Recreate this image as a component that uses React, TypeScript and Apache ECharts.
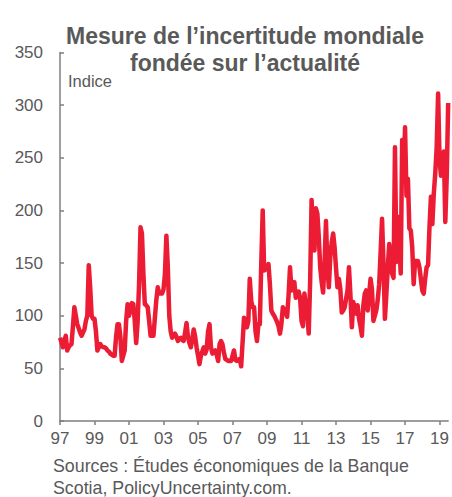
import React, { useEffect, useRef } from "react";
import * as echarts from "echarts";

// Monthly index, January 1997 to July 2019
const startYear = 1997;
const y1997 = [79, 75, 70, 76, 81, 67, 70, 72, 73, 90, 108, 100];
const y1998 = [92, 88, 84, 81, 84, 87, 95, 100, 148, 127, 100, 97];
const y1999 = [97, 85, 67, 70, 73, 71, 70, 70, 69, 67, 66, 64];
const y2000 = [63, 62, 62, 80, 92, 92, 80, 57, 62, 67, 95, 111];
const y2001 = [100, 106, 112, 111, 95, 74, 94, 130, 184, 178, 140, 111];
const y2002 = [110, 108, 95, 81, 81, 81, 98, 115, 127, 121, 121, 121];
const y2003 = [125, 140, 176, 146, 100, 85, 79, 81, 83, 80, 76, 78];
const y2004 = [79, 77, 76, 84, 93, 80, 74, 70, 78, 87, 80, 70];
const y2005 = [62, 54, 62, 66, 70, 64, 68, 85, 92, 70, 64, 66];
const y2006 = [67, 63, 57, 73, 76, 73, 65, 59, 58, 57, 57, 57];
const y2007 = [62, 67, 58, 57, 58, 59, 52, 75, 98, 92, 89, 95];
const y2008 = [135, 114, 108, 108, 85, 76, 92, 92, 150, 200, 143, 144];
const y2009 = [146, 149, 130, 105, 102, 100, 97, 94, 90, 83, 92, 108];
const y2010 = [106, 103, 99, 120, 146, 124, 128, 132, 117, 120, 123, 117];
const y2011 = [95, 90, 121, 110, 103, 83, 133, 210, 175, 162, 202, 197];
const y2012 = [175, 146, 132, 122, 150, 190, 146, 127, 156, 170, 178, 165];
const y2013 = [145, 127, 135, 125, 103, 105, 108, 116, 124, 146, 120, 89];
const y2014 = [113, 108, 102, 110, 97, 90, 81, 110, 121, 124, 105, 120];
const y2015 = [135, 125, 95, 100, 105, 115, 130, 160, 192, 150, 97, 120];
const y2016 = [146, 168, 149, 140, 136, 260, 151, 194, 170, 140, 267, 229];
const y2017 = [279, 214, 230, 183, 181, 165, 130, 152, 152, 152, 146, 135];
const y2018 = [124, 121, 135, 146, 148, 184, 213, 187, 216, 235, 260, 311];
const y2019 = [248, 233, 240, 256, 189, 232, 302];

const monthlyIndex = [
  ...y1997, ...y1998, ...y1999, ...y2000, ...y2001, ...y2002, ...y2003,
  ...y2004, ...y2005, ...y2006, ...y2007, ...y2008, ...y2009, ...y2010,
  ...y2011, ...y2012, ...y2013, ...y2014, ...y2015, ...y2016, ...y2017,
  ...y2018, ...y2019,
];

const tickYears = [1997, 1999, 2001, 2003, 2005, 2007, 2009, 2011, 2013, 2015, 2017, 2019];
const yTicks = [0, 50, 100, 150, 200, 250, 300, 350];

const titleText = "Mesure de l’incertitude mondiale\nfondée sur l’actualité";
const unitText = "Indice";
const sourceText = "Sources : Études économiques de la Banque\nScotia, PolicyUncertainty.com.";

const FONT = "'Liberation Sans', Arial, Helvetica, sans-serif";
const GREY = "#595959";
const AXIS = "#7f7f7f";
const RED = "#ec1c35";

export default function App() {
  const ref = useRef<HTMLDivElement>(null);
  useEffect(() => {
    if (!ref.current) return;
    const chart = echarts.init(ref.current, undefined, { renderer: "svg" });
    const data = monthlyIndex.map((v, i) => [startYear + i / 12, v]);
    chart.setOption({
      animation: false,
      backgroundColor: "#ffffff",
      title: {
        text: titleText,
        left: 240,
        top: 17,
        textAlign: "center",
        textStyle: {
          fontFamily: FONT,
          fontSize: 23,
          fontWeight: "bold",
          color: GREY,
          lineHeight: 27.5,
        },
      },
      grid: { left: 60, right: 1, top: 52.5, bottom: 76, containLabel: false },
      xAxis: {
        type: "value",
        min: startYear,
        max: 2019.5,
        interval: 2,
        splitLine: { show: false },
        axisLine: { show: true, lineStyle: { color: AXIS, width: 1.5 } },
        axisTick: { show: true, inside: false, length: 4, lineStyle: { color: AXIS, width: 1.5 }, customValues: tickYears },
        axisLabel: {
          customValues: tickYears,
          margin: 9,
          fontFamily: FONT,
          fontSize: 17,
          color: GREY,
          formatter: (v: number) => String(Math.round(v)).slice(2),
        },
      },
      yAxis: {
        type: "value",
        min: 0,
        max: 350,
        interval: 50,
        splitLine: { show: false },
        axisLine: { show: true, lineStyle: { color: AXIS, width: 1.5 } },
        axisTick: { show: true, inside: true, length: 4, lineStyle: { color: AXIS, width: 1.5 }, customValues: yTicks },
        axisLabel: {
          margin: 17,
          fontFamily: FONT,
          fontSize: 17,
          color: GREY,
        },
      },
      series: [
        {
          type: "line",
          data,
          showSymbol: false,
          symbol: "none",
          lineStyle: { color: RED, width: 4.5, join: "round" },
          clip: false,
        },
      ],
      graphic: [
        {
          type: "text",
          left: 68,
          top: 72,
          style: { text: unitText, fontFamily: FONT, fontSize: 16.5, fill: GREY },
        },
        {
          type: "text",
          left: 53,
          top: 455,
          style: { text: sourceText, fontFamily: FONT, fontSize: 17.8, lineHeight: 22, fill: GREY },
        },
      ],
    });
    return () => chart.dispose();
  }, []);
  return (
    <div
      ref={ref}
      style={{ position: "fixed", left: 0, top: 0, width: 452, height: 497, background: "#fff" }}
    />
  );
}
